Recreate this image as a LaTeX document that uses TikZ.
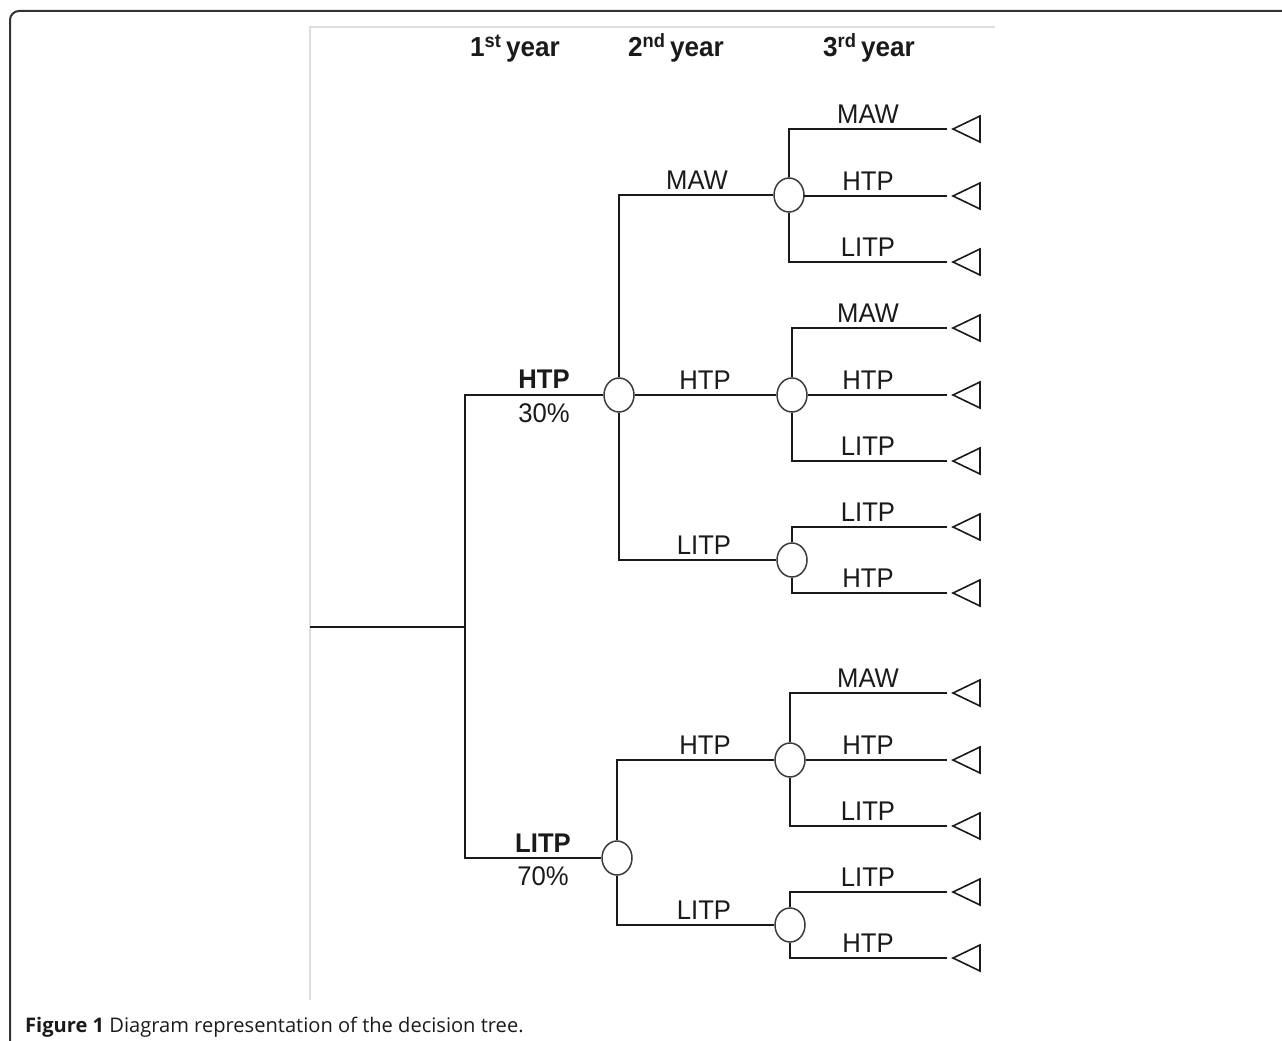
\documentclass[tikz,border=0pt]{standalone}
\usepackage{fontspec}
\setmainfont{Liberation Sans}
\newfontfamily\lblfont[FakeStretch=0.95]{Liberation Sans}
\newfontfamily\capfont{Open Sans}
\usetikzlibrary{shapes.geometric}
\definecolor{ink}{HTML}{1A1A1A}
\begin{document}
\begin{tikzpicture}[x=1pt,y=-1pt,
  line/.style={draw=ink, line width=1.8pt},
  chance/.style={ellipse, draw=ink!85, line width=1.5pt, fill=white, minimum width=30pt, minimum height=34pt, inner sep=0pt},
  tri/.style={draw=ink, line width=1.6pt, line join=miter},
  lbl/.style={font=\lblfont\fontsize{27}{27}\selectfont, text=ink, inner sep=0pt, anchor=base},
  blbl/.style={font=\lblfont\bfseries\fontsize{27}{27}\selectfont, text=ink, inner sep=0pt, anchor=base},
  hdr/.style={font=\lblfont\bfseries\fontsize{27.5}{27.5}\selectfont, text=ink, inner sep=0pt, anchor=base},
  frame/.style={draw=black!13, line width=1.6pt}
]
\useasboundingbox (0,0) rectangle (1282,1041);
\begin{scope}
\clip (0,0) rectangle (1282,1041);
\draw[draw=black!80, line width=2pt, rounded corners=9pt] (10,1080) -- (10,11) -- (1320,11);
\end{scope}
% image frame
\draw[frame] (310,1000) -- (310,27) -- (995,27);

% headers
\node[hdr] (h1) at (515,57) {1\textsuperscript{st}\,year};
\node[hdr] (h2) at (676,57) {2\textsuperscript{nd}\,year};
\node[hdr] (h3) at (869,57) {3\textsuperscript{rd}\,year};

% root and first level
\coordinate (r0) at (310,627);
\coordinate (j1) at (465,627);
\node[chance] (c1) at (619,395) {};
\node[chance] (c2) at (617,858) {};
\draw[line] (r0) -- (j1);
\draw[line] (j1) |- (c1.west);
\draw[line] (j1) |- (c2.west);
\node[blbl] (lc1) at (544,388) {HTP};
\node[lbl]  (pc1) at (544,422) {30\%};
\node[blbl] (lc2) at (543,852) {LITP};
\node[lbl]  (pc2) at (543,885) {70\%};

% second level
\node[chance] (d1) at (789,195) {};
\node[chance] (d2) at (792,395) {};
\node[chance] (d3) at (792,560) {};
\node[chance] (d4) at (790,760) {};
\node[chance] (d5) at (790,925) {};
\draw[line] (c1.north) |- (d1.west);
\draw[line] (c1.east) -- (d2.west);
\draw[line] (c1.south) |- (d3.west);
\draw[line] (c2.north) |- (d4.west);
\draw[line] (c2.south) |- (d5.west);
\node[lbl] (ld1) at (697,189) {MAW};
\node[lbl] (ld2) at (705,389) {HTP};
\node[lbl] (ld3) at (704,554) {LITP};
\node[lbl] (ld4) at (705,754) {HTP};
\node[lbl] (ld5) at (704,919) {LITP};

% third level leaves: parent / name / y / label / anchor
\foreach \p/\n/\y/\t/\k in {
  d1/a1/129/MAW/north, d1/a2/196/HTP/east, d1/a3/262/LITP/south,
  d2/b1/328/MAW/north, d2/b2/395/HTP/east, d2/b3/461/LITP/south,
  d3/e1/527/LITP/north, d3/e2/593/HTP/south,
  d4/f1/693/MAW/north, d4/f2/760/HTP/east, d4/f3/826/LITP/south,
  d5/g1/892/LITP/north, d5/g2/958/HTP/south}{
  \coordinate (\n) at (947,\y);
  \coordinate (t\n) at (953,\y);
  \draw[line] (\p.\k) |- (\n);
  \draw[tri] (t\n) -- ++(27,-13) -- ++(0,26) -- cycle;
  \node[lbl] (l\n) at (868,\y-6) {\t};
}

% caption
\node[font=\capfont\fontsize{20.1}{20.1}\selectfont, text=ink, anchor=base west, inner sep=0pt] (cap) at (25,1032)
  {\textbf{Figure 1} Diagram representation of the decision tree.};
\end{tikzpicture}
\end{document}
